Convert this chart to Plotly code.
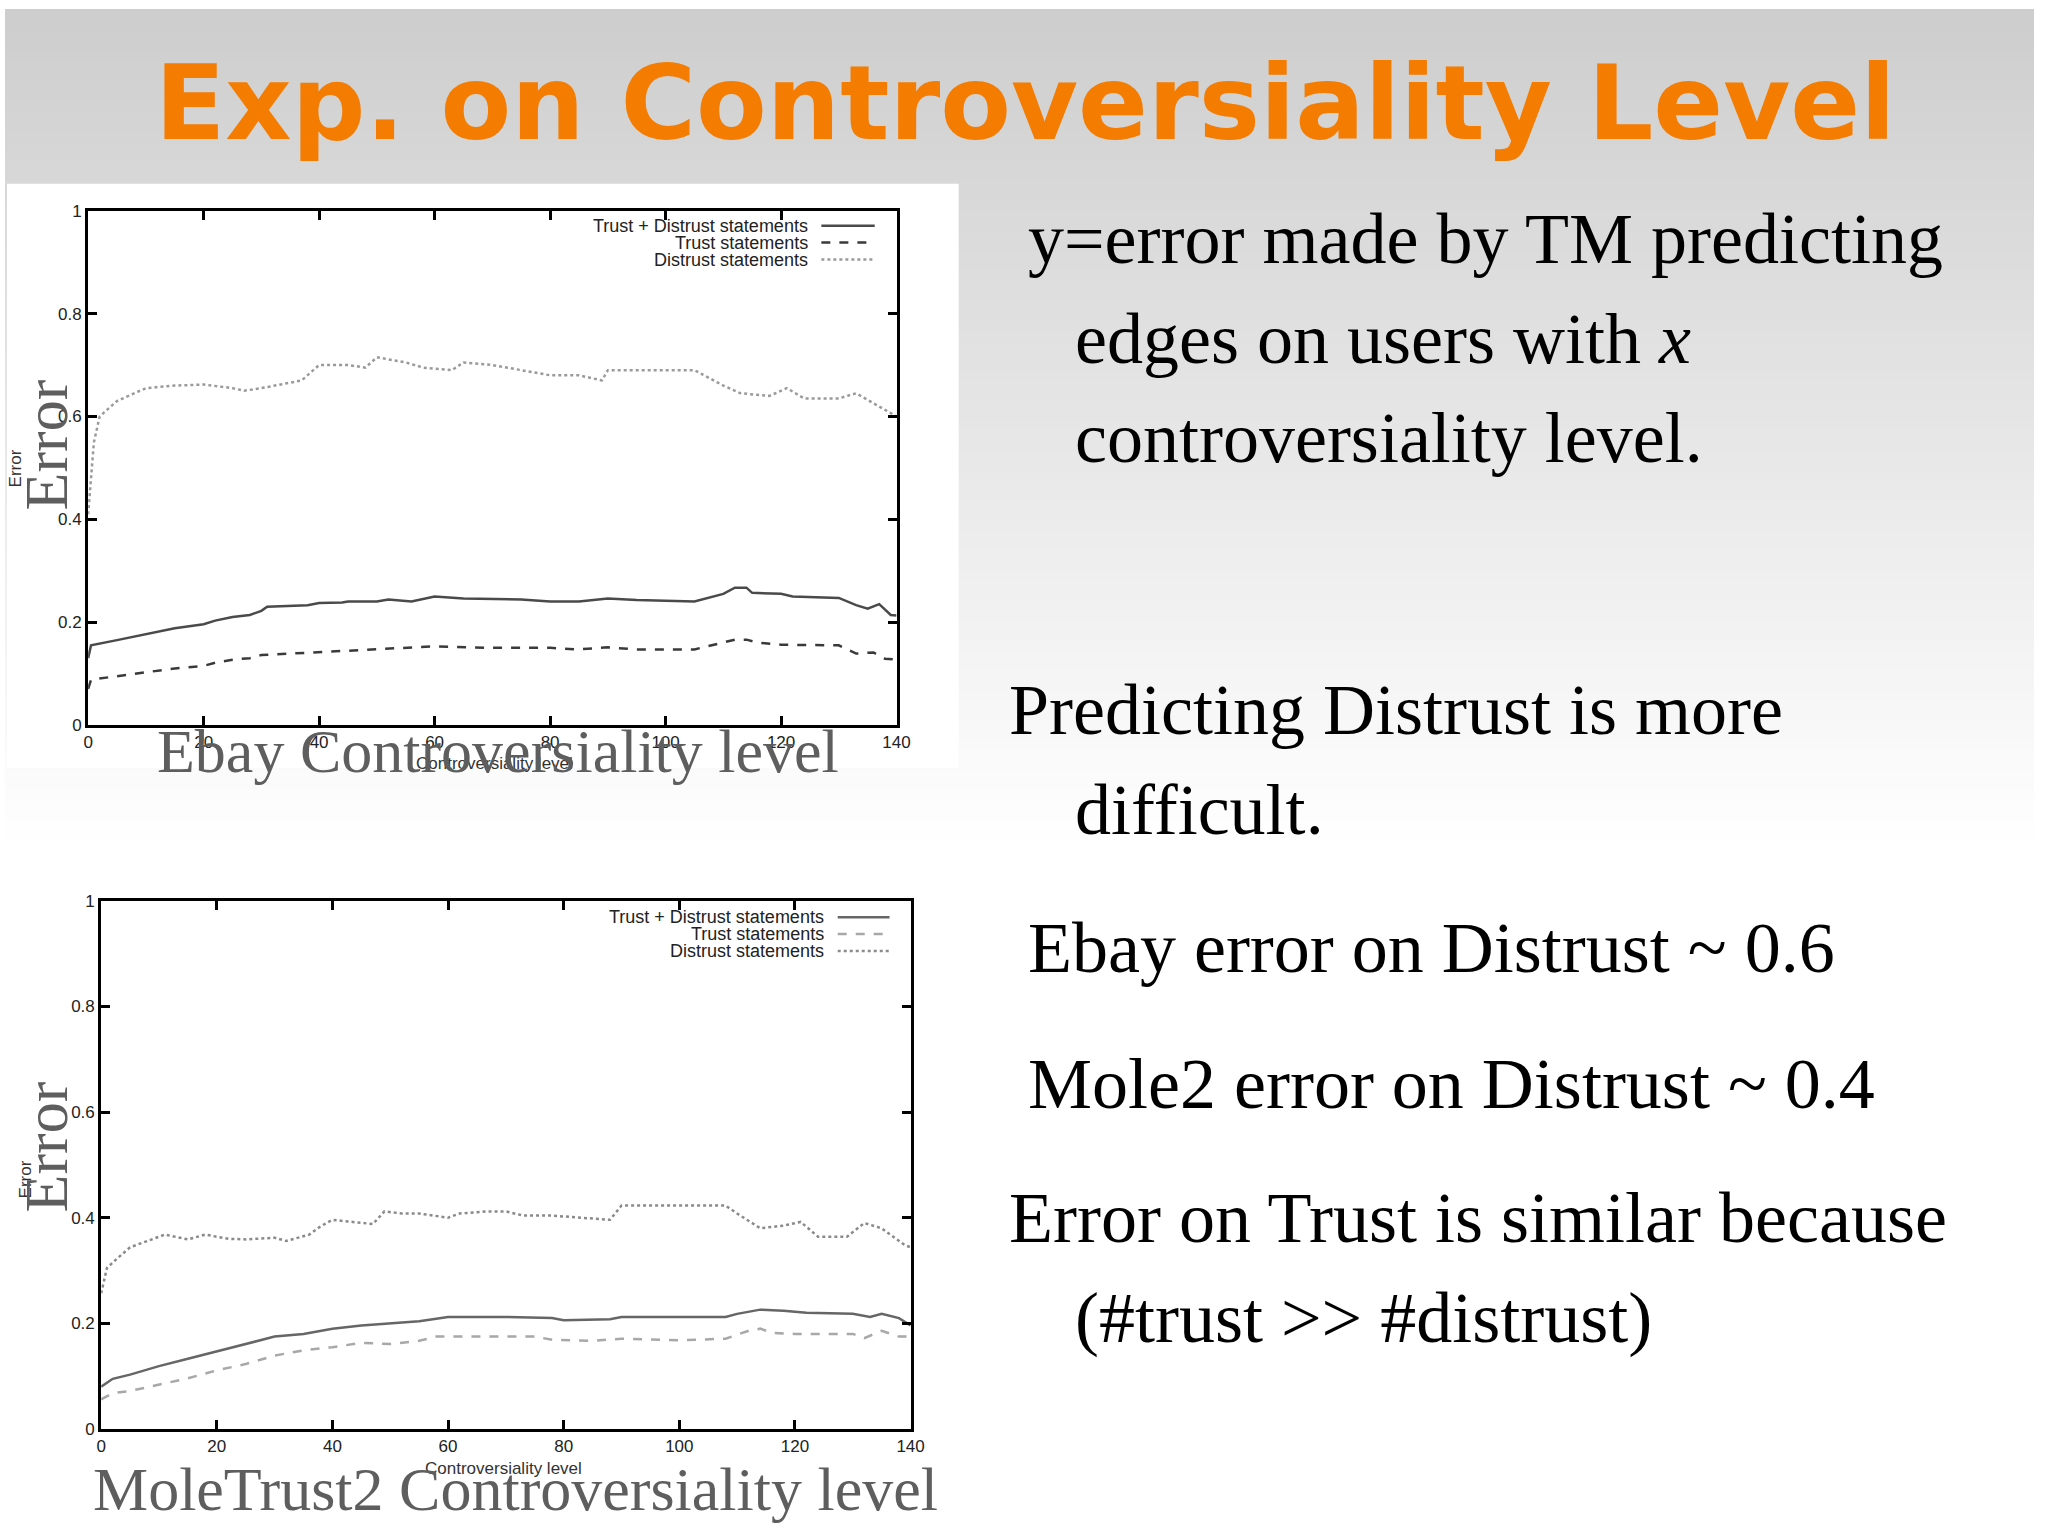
import plotly.graph_objects as go

# Ebay panel (top)
ebay_total_x = [0, 0.5, 5, 10, 15, 20, 22, 25, 28, 30, 31, 38, 40, 44, 45, 50, 52, 56, 60, 65, 75, 80, 85, 90, 95, 105, 110, 112, 114, 115, 120, 122, 130, 133, 135, 137, 139, 140]
ebay_total_y = [0.13, 0.155, 0.165, 0.177, 0.188, 0.196, 0.203, 0.21, 0.214, 0.222, 0.23, 0.233, 0.237, 0.238, 0.24, 0.24, 0.244, 0.24, 0.25, 0.246, 0.244, 0.24, 0.24, 0.246, 0.243, 0.24, 0.255, 0.267, 0.267, 0.257, 0.255, 0.25, 0.247, 0.233, 0.226, 0.235, 0.214, 0.213]
ebay_trust_x = [0, 0.5, 5, 10, 15, 20, 22, 25, 28, 30, 35, 40, 45, 50, 55, 60, 70, 80, 85, 90, 95, 105, 108, 112, 114, 116, 120, 125, 130, 133, 136, 138, 140]
ebay_trust_y = [0.07, 0.088, 0.095, 0.103, 0.11, 0.115, 0.121, 0.127, 0.13, 0.136, 0.139, 0.141, 0.145, 0.147, 0.15, 0.153, 0.15, 0.15, 0.147, 0.151, 0.147, 0.147, 0.155, 0.166, 0.166, 0.16, 0.156, 0.155, 0.155, 0.139, 0.141, 0.129, 0.127]
ebay_dist_x = [0, 1, 2, 5, 10, 15, 20, 25, 27, 30, 37, 38, 40, 45, 48, 50, 55, 58, 63, 65, 70, 75, 80, 85, 89, 90, 100, 105, 110, 113, 118, 121, 124, 130, 133, 137, 140]
ebay_dist_y = [0.41, 0.55, 0.60, 0.63, 0.655, 0.66, 0.662, 0.655, 0.65, 0.655, 0.67, 0.68, 0.70, 0.70, 0.695, 0.715, 0.705, 0.695, 0.69, 0.705, 0.70, 0.69, 0.68, 0.68, 0.67, 0.69, 0.69, 0.69, 0.66, 0.645, 0.64, 0.655, 0.635, 0.635, 0.645, 0.62, 0.60]

# MoleTrust2 panel (bottom)
mole_total_x = [0, 2, 5, 10, 15, 20, 25, 30, 35, 40, 45, 50, 55, 60, 70, 78, 80, 88, 90, 108, 110, 114, 118, 122, 130, 133, 135, 138, 140]
mole_total_y = [0.08, 0.095, 0.103, 0.119, 0.133, 0.147, 0.16, 0.175, 0.18, 0.19, 0.196, 0.2, 0.204, 0.212, 0.212, 0.21, 0.206, 0.208, 0.212, 0.212, 0.218, 0.226, 0.224, 0.22, 0.218, 0.212, 0.218, 0.21, 0.196]
mole_trust_x = [0, 2, 5, 10, 15, 20, 25, 30, 35, 40, 45, 50, 55, 58, 65, 75, 78, 85, 90, 100, 108, 112, 114, 116, 120, 130, 132, 135, 138, 140]
mole_trust_y = [0.056, 0.068, 0.072, 0.084, 0.096, 0.111, 0.123, 0.139, 0.149, 0.155, 0.163, 0.161, 0.167, 0.175, 0.175, 0.175, 0.169, 0.167, 0.171, 0.168, 0.171, 0.186, 0.19, 0.182, 0.18, 0.18, 0.172, 0.186, 0.175, 0.175]
mole_dist_x = [0, 1, 3, 5, 8, 11, 15, 18, 22, 25, 30, 32, 36, 38, 40, 43, 47, 49, 52, 55, 58, 60, 62, 67, 70, 73, 78, 83, 88, 90, 100, 108, 110, 114, 118, 121, 124, 129, 132, 135, 139, 140]
mole_dist_y = [0.257, 0.305, 0.325, 0.344, 0.356, 0.368, 0.359, 0.368, 0.36, 0.359, 0.362, 0.356, 0.368, 0.384, 0.396, 0.392, 0.388, 0.412, 0.408, 0.408, 0.404, 0.40, 0.408, 0.412, 0.412, 0.404, 0.404, 0.40, 0.396, 0.423, 0.423, 0.423, 0.408, 0.38, 0.385, 0.392, 0.364, 0.364, 0.39, 0.38, 0.348, 0.344]

series_names = ['Trust + Distrust statements', 'Trust statements', 'Distrust statements']
title_text = 'Exp. on Controversiality Level'
right_lines = [
    ('y=error made by TM predicting', 1024, 262),
    ('edges on users with <i>x</i>', 1071, 362),
    ('controversiality level.', 1071, 462),
    ('Predicting Distrust is more', 1005, 734),
    ('difficult.', 1071, 834),
    ('Ebay error on Distrust ~ 0.6', 1024, 972),
    ('Mole2 error on Distrust ~ 0.4', 1024, 1108),
    ('Error on Trust is similar because', 1005, 1243),
    ('(#trust &gt;&gt; #distrust)', 1071, 1343),
]

W, H = 2048, 1535
# the photographed page comes out slightly shrunk and offset, so place things in
# slide pixels and map them back
K, OX, OY = 0.989, 5, 8


def px(x):
    return (x - OX) / K / W


def py(y):
    return 1 - (y - OY) / K / H


fig = go.Figure()

styles_top = [('#4a4a4a', 'solid', 2.5), ('#3a3a3a', 'dash', 2.5), ('#9a9a9a', 'dot', 2.5)]
styles_bot = [('#666666', 'solid', 2.5), ('#a8a8a8', 'dash', 2.5), ('#8a8a8a', 'dot', 2.5)]

top_data = [(ebay_total_x, ebay_total_y), (ebay_trust_x, ebay_trust_y), (ebay_dist_x, ebay_dist_y)]
bot_data = [(mole_total_x, mole_total_y), (mole_trust_x, mole_trust_y), (mole_dist_x, mole_dist_y)]

for (xs, ys), name, (c, d, w) in zip(top_data, series_names, styles_top):
    fig.add_trace(go.Scatter(x=xs, y=ys, mode='lines', name=name, xaxis='x', yaxis='y',
                             line={'color': c, 'dash': d, 'width': w}))
for (xs, ys), name, (c, d, w) in zip(bot_data, series_names, styles_bot):
    fig.add_trace(go.Scatter(x=xs, y=ys, mode='lines', name=name, xaxis='x2', yaxis='y2',
                             line={'color': c, 'dash': d, 'width': w}))

axis_common = {
    'showline': True, 'linecolor': 'black', 'linewidth': 3, 'mirror': 'ticks',
    'ticks': 'inside', 'ticklen': 9, 'tickwidth': 3, 'tickcolor': 'black',
    'showgrid': False, 'zeroline': False,
    'tickfont': {'family': 'Liberation Sans', 'size': 17, 'color': '#222222'},
}

# background gradient and white panel behind the Ebay plot
shapes = []
step = 10
for y0 in range(0, 860, step):
    g = int(round(205 + 50 * min(y0 / 840.0, 1.0)))
    shapes.append({'type': 'rect', 'xref': 'paper', 'yref': 'paper', 'layer': 'below',
                   'x0': 0, 'x1': 1, 'y0': py(y0 + step + 1), 'y1': min(py(y0), 1),
                   'fillcolor': 'rgb(%d,%d,%d)' % (g, g, g), 'line': {'width': 0}})
shapes.append({'type': 'rect', 'xref': 'paper', 'yref': 'paper', 'layer': 'below',
               'x0': px(7), 'x1': px(957), 'y0': py(768), 'y1': py(183),
               'fillcolor': 'white', 'line': {'width': 0}})

annotations = []

# gnuplot style legends (text then sample on the right)
legend_pos = [('x', 'y', [0.971, 0.938, 0.905], 0.893, 0.907, 0.973, styles_top),
              ('x2', 'y2', [0.969, 0.937, 0.905], 0.895, 0.910, 0.974, styles_bot)]
for xa, ya, rows, tx, s0, s1, sty in legend_pos:
    for name, yy, (c, d, w) in zip(series_names, rows, sty):
        annotations.append({'xref': xa + ' domain', 'yref': ya + ' domain', 'x': tx, 'y': yy,
                            'xanchor': 'right', 'yanchor': 'middle', 'showarrow': False,
                            'text': name,
                            'font': {'family': 'Liberation Sans', 'size': 18, 'color': '#222222'}})
        shapes.append({'type': 'line', 'xref': xa + ' domain', 'yref': ya + ' domain',
                       'x0': s0, 'x1': s1, 'y0': yy, 'y1': yy,
                       'line': {'color': c, 'dash': d, 'width': w}})

# small gnuplot axis labels
small = {'family': 'Liberation Sans', 'size': 17, 'color': '#333333'}
annotations += [
    {'xref': 'paper', 'yref': 'paper', 'x': px(15), 'y': py(468), 'text': 'Error',
     'xanchor': 'center', 'yanchor': 'middle', 'textangle': -90, 'showarrow': False, 'font': small},
    {'xref': 'paper', 'yref': 'paper', 'x': px(494), 'y': py(764), 'text': 'Controversiality level',
     'xanchor': 'center', 'yanchor': 'middle', 'showarrow': False, 'font': small},
    {'xref': 'paper', 'yref': 'paper', 'x': px(25), 'y': py(1180), 'text': 'Error',
     'xanchor': 'center', 'yanchor': 'middle', 'textangle': -90, 'showarrow': False, 'font': small},
    {'xref': 'paper', 'yref': 'paper', 'x': px(503), 'y': py(1470), 'text': 'Controversiality level',
     'xanchor': 'center', 'yanchor': 'middle', 'showarrow': False, 'font': small},
]

# big overlay captions
big = {'family': 'Liberation Serif', 'size': 62, 'color': '#5e5e5e'}
annotations += [
    {'xref': 'paper', 'yref': 'paper', 'x': px(46), 'y': py(445), 'text': 'Error',
     'xanchor': 'center', 'yanchor': 'middle', 'textangle': -90, 'showarrow': False, 'font': big},
    {'xref': 'paper', 'yref': 'paper', 'x': px(46), 'y': py(1148), 'text': 'Error',
     'xanchor': 'center', 'yanchor': 'middle', 'textangle': -90, 'showarrow': False, 'font': big},
    {'xref': 'paper', 'yref': 'paper', 'x': px(155), 'y': py(772 - 21), 'xanchor': 'left',
     'yanchor': 'middle', 'text': 'Ebay Controversiality level', 'showarrow': False, 'font': big},
    {'xref': 'paper', 'yref': 'paper', 'x': px(91), 'y': py(1511 - 21), 'xanchor': 'left',
     'yanchor': 'middle', 'text': 'MoleTrust2 Controversiality level', 'showarrow': False, 'font': big},
]

# slide title
annotations.append({'xref': 'paper', 'yref': 'paper', 'x': px(1024), 'y': py(137 - 35),
                    'xanchor': 'center', 'yanchor': 'middle',
                    'text': title_text, 'showarrow': False,
                    'font': {'family': 'DejaVu Sans', 'size': 103, 'color': '#f47c00', 'weight': 'bold'}})

# right hand text
for txt, x, base in right_lines:
    annotations.append({'xref': 'paper', 'yref': 'paper', 'x': px(x), 'y': py(base - 24),
                        'xanchor': 'left', 'yanchor': 'middle', 'text': txt, 'showarrow': False,
                        'font': {'family': 'Liberation Serif', 'size': 72, 'color': 'black'}})

fig.update_layout(
    width=W, height=H,
    margin={'l': 0, 'r': 0, 't': 0, 'b': 0},
    paper_bgcolor='white', plot_bgcolor='rgba(0,0,0,0)',
    showlegend=False,
    xaxis=dict(axis_common, domain=[px(88), px(895)], range=[0, 140], dtick=20, anchor='y'),
    yaxis=dict(axis_common, domain=[py(725), py(210)], range=[0, 1], dtick=0.2, anchor='x'),
    xaxis2=dict(axis_common, domain=[px(101), px(909)], range=[0, 140], dtick=20, anchor='y2'),
    yaxis2=dict(axis_common, domain=[py(1430), py(901)], range=[0, 1], dtick=0.2, anchor='x2'),
    shapes=shapes,
    annotations=annotations,
)

# no page margin, no modebar
fig.write_html("out.html", config={'displayModeBar': False},
               post_script="document.body.style.margin='0px';")
